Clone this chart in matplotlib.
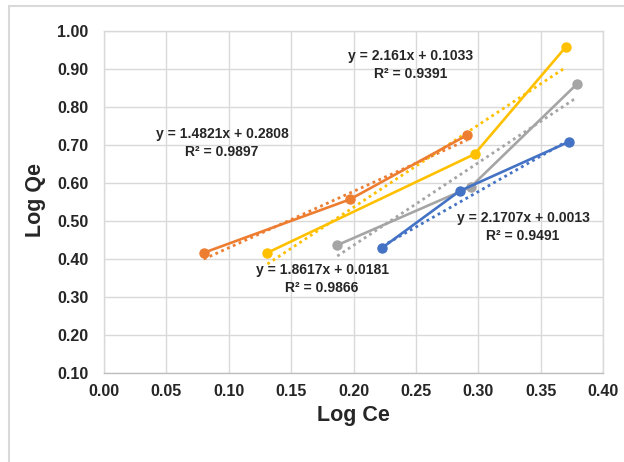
import matplotlib
matplotlib.use("Agg")
import matplotlib.pyplot as plt
from matplotlib.patches import Rectangle
import numpy as np

plt.rcParams['font.family'] = ['Liberation Sans', 'DejaVu Sans']

# Freundlich isotherm data (log Ce vs log Qe), four series
orange_x = [0.080, 0.197, 0.291]
orange_y = [0.416, 0.556, 0.725]
yellow_x = [0.131, 0.297, 0.370]
yellow_y = [0.416, 0.675, 0.956]
gray_x = [0.187, 0.294, 0.379]
gray_y = [0.436, 0.589, 0.859]
blue_x = [0.223, 0.285, 0.373]
blue_y = [0.429, 0.578, 0.708]

# Linear trendline coefficients (slope, intercept, R²)
orange_fit = (1.4821, 0.2808, 0.9897)
yellow_fit = (2.161, 0.1033, 0.9391)
gray_fit = (2.1707, 0.0013, 0.9491)
blue_fit = (1.8617, 0.0181, 0.9866)

x_ticks = [0.00, 0.05, 0.10, 0.15, 0.20, 0.25, 0.30, 0.35, 0.40]
y_ticks = [0.10, 0.20, 0.30, 0.40, 0.50, 0.60, 0.70, 0.80, 0.90, 1.00]

series = [
    (orange_x, orange_y, orange_fit, '#ED7D31', (222, 143)),
    (yellow_x, yellow_y, yellow_fit, '#FFC000', (411, 65)),
    (gray_x, gray_y, gray_fit, '#A5A5A5', (523, 227)),
    (blue_x, blue_y, blue_fit, '#4472C4', (322, 279)),
]

W, H = 624, 462
fig = plt.figure(figsize=(W / 100, H / 100), dpi=100)
ax = fig.add_axes([104 / W, 1 - 373 / H, (603 - 104) / W, (373 - 30.5) / H])

# outer frame around the chart
fig.patches.append(Rectangle((9 / W, -0.05), 1.2, 1 - 6 / H + 0.05,
                             transform=fig.transFigure, fill=False,
                             edgecolor='#D9D9D9', linewidth=1.5))

for xs, ys, (m, b, r2), color, (tx, ty) in series:
    ax.plot(xs, ys, color=color, linewidth=1.9, marker='o', markersize=6.5,
            zorder=3)
    xf = np.array([xs[0], xs[-1]])
    ax.plot(xf, m * xf + b, color=color, linewidth=2.0,
            linestyle=(0, (1, 1.3)), zorder=2)
    label = f"y = {m:g}x + {b:g}\nR² = {r2:g}"
    fig.text(tx / W, 1 - ty / H, label, ha='center', va='center',
             fontsize=10, fontweight='bold', linespacing=1.45,
             color='#262626')

ax.set_xlim(0.0, 0.40)
ax.set_ylim(0.10, 1.00)
ax.set_xticks(x_ticks)
ax.set_yticks(y_ticks)
ax.set_xticklabels([f"{v:.2f}" for v in x_ticks])
ax.set_yticklabels([f"{v:.2f}" for v in y_ticks])
ax.tick_params(length=0, labelsize=11.5, colors='#262626')
ax.tick_params(axis='x', pad=8)
ax.tick_params(axis='y', pad=11)
for lbl in ax.get_xticklabels() + ax.get_yticklabels():
    lbl.set_fontweight('bold')

ax.grid(True, color='#D9D9D9', linewidth=1.0)
ax.set_axisbelow(True)
for side in ['top', 'right', 'left']:
    ax.spines[side].set_color('#D9D9D9')
    ax.spines[side].set_linewidth(1.0)
ax.spines['bottom'].set_color('#BFBFBF')
ax.spines['bottom'].set_linewidth(1.0)

ax.set_xlabel('Log Ce', fontsize=15.5, fontweight='bold', color='#262626')
ax.set_ylabel('Log Qe', fontsize=15.5, fontweight='bold', color='#262626')
ax.xaxis.set_label_coords(0.5, (373 - 416) / (373 - 30.5))
ax.xaxis.label.set_va('center')
ax.yaxis.set_label_coords((35 - 104) / (603 - 104), (373 - 200) / (373 - 30.5))
ax.yaxis.label.set_va('center')

fig.savefig('out.png', dpi=100)
